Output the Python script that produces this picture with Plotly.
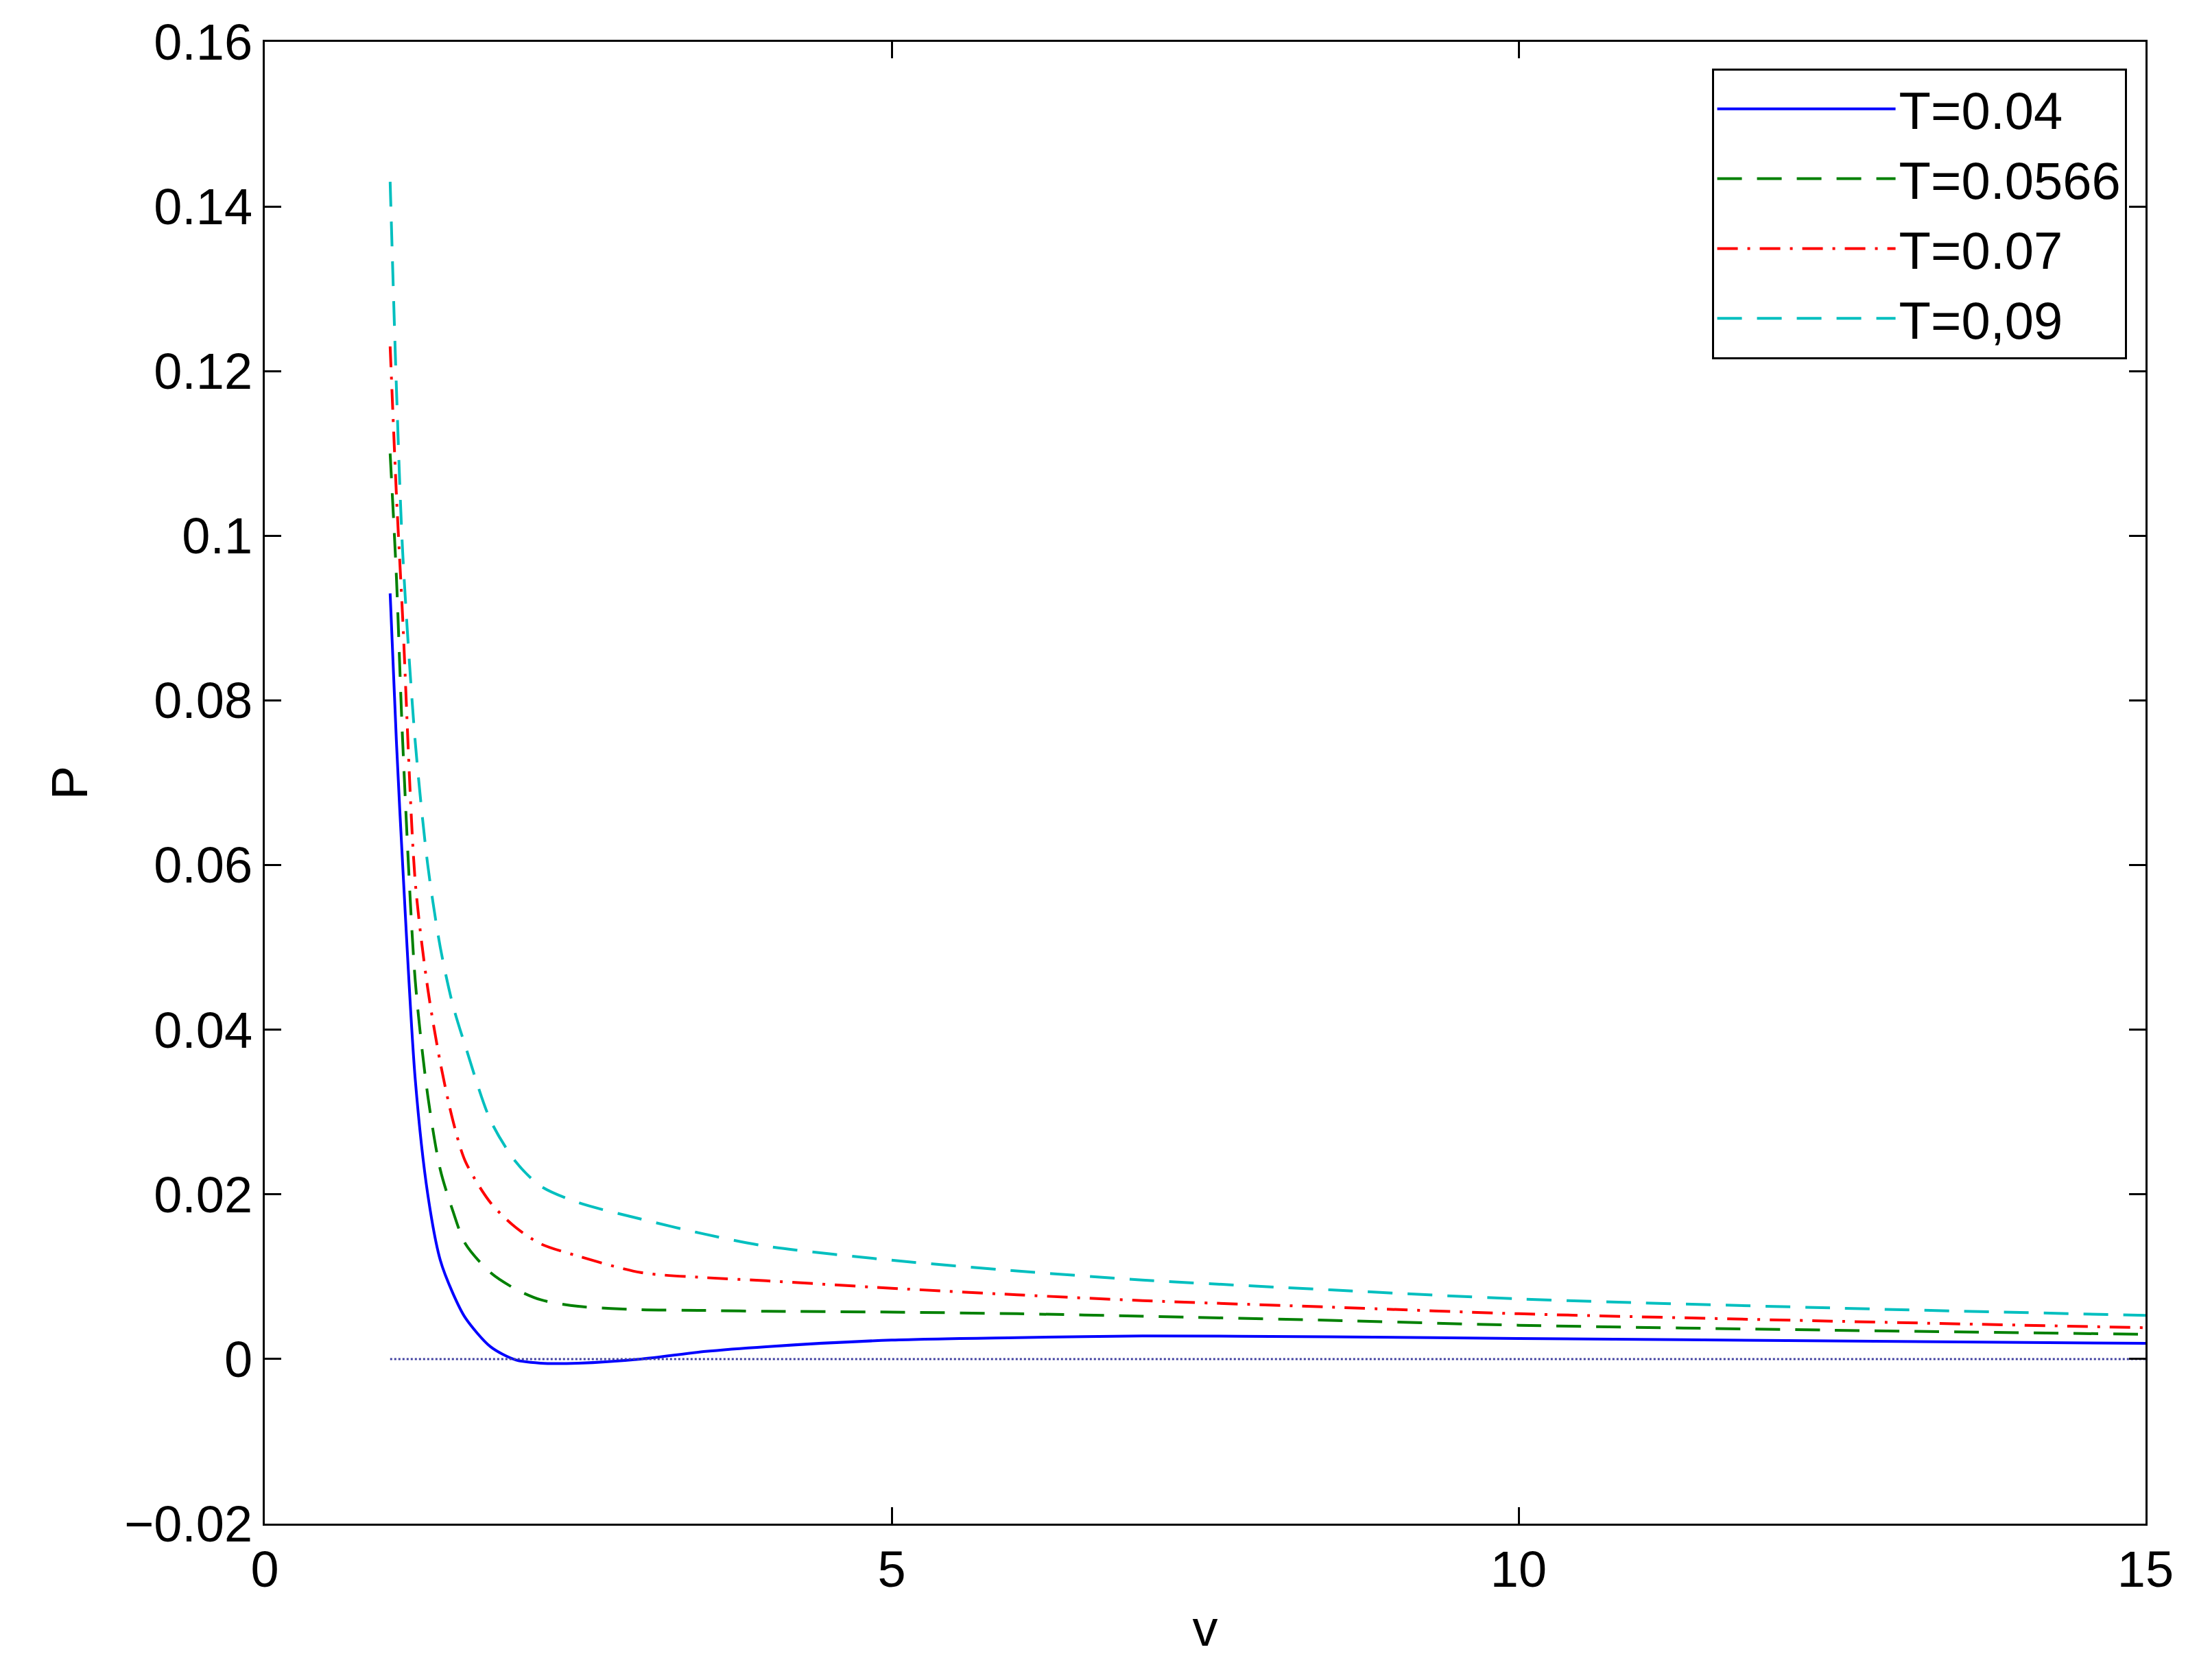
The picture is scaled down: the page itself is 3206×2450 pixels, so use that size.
import plotly.graph_objects as go

v = [1.0, 1.05, 1.1, 1.2, 1.3, 1.4, 1.5, 1.6, 1.8, 2.0, 2.2, 2.5, 3.0, 3.5, 4.0, 5.0, 6.0, 7.0, 8.5, 10.0, 12.5, 15.0]

p_004 = [0.093, 0.075, 0.060, 0.034, 0.020, 0.012, 0.008, 0.005, 0.0015, -0.0001, -0.0005, -0.0005, 0.0, 0.0009, 0.0015, 0.0023, 0.0026, 0.0028, 0.0027, 0.0025, 0.0022, 0.0019]
p_0566 = [0.110, 0.095, 0.075, 0.046, 0.032, 0.023, 0.018, 0.014, 0.0105, 0.0085, 0.0072, 0.0064, 0.006, 0.0059, 0.0058, 0.0057, 0.0055, 0.0052, 0.0047, 0.0041, 0.0035, 0.0030]
p_007 = [0.123, 0.105, 0.090, 0.058, 0.045, 0.036, 0.029, 0.024, 0.019, 0.016, 0.014, 0.0125, 0.0105, 0.0099, 0.0095, 0.0086, 0.0078, 0.0071, 0.0063, 0.0055, 0.0046, 0.0038]
p_009 = [0.143, 0.118, 0.098, 0.075, 0.060, 0.050, 0.043, 0.038, 0.029, 0.024, 0.021, 0.019, 0.017, 0.0152, 0.0137, 0.0120, 0.0107, 0.0096, 0.0084, 0.0073, 0.0062, 0.0053]

series = [
    ("T=0.04", p_004, "#0000ff", "solid"),
    ("T=0.0566", p_0566, "#008000", "36px,22px"),
    ("T=0.07", p_007, "#ff0000", "30px,14px,4px,14px"),
    ("T=0,09", p_009, "#00bfbf", "36px,22px"),
]

fig = go.Figure()
for name, p, color, dash in series:
    fig.add_trace(go.Scatter(x=v, y=p, mode="lines", name=name, line_shape="spline",
                             line=dict(color=color, dash=dash, width=4, smoothing=0.8)))

# zero line
fig.add_trace(go.Scatter(x=[v[0], v[-1]], y=[0, 0], mode="lines", showlegend=False,
                         line=dict(color="#4040a0", dash="dot", width=3)))

axis = dict(showgrid=False, zeroline=False, showline=True, linecolor="black", linewidth=3,
            mirror="allticks", ticks="inside", ticklen=24, tickwidth=3, tickcolor="black",
            tickfont=dict(size=74, color="black"))

fig.update_layout(
    width=3206, height=2450, plot_bgcolor="white", paper_bgcolor="white",
    font=dict(family="Liberation Sans, Arial", color="black"),
    margin=dict(l=378, r=86, t=50, b=236),
    xaxis=dict(axis, range=[0, 15], dtick=5, title=dict(text="v", font=dict(size=74), standoff=20)),
    yaxis=dict(axis, range=[-0.02, 0.16], dtick=0.02,
               title=dict(text="P", font=dict(size=74), standoff=30)),
    legend=dict(x=0.99, y=0.982, xanchor="right", yanchor="top", bordercolor="black",
                borderwidth=3, font=dict(size=76), bgcolor="white", itemwidth=260, tracegroupgap=0),
    showlegend=True,
)
fig.update_yaxes(tickvals=[-0.02, 0, 0.02, 0.04, 0.06, 0.08, 0.1, 0.12, 0.14, 0.16],
                 ticktext=["\u22120.02", "0", "0.02", "0.04", "0.06", "0.08", "0.1", "0.12", "0.14", "0.16"])

fig.write_html("out.html")
